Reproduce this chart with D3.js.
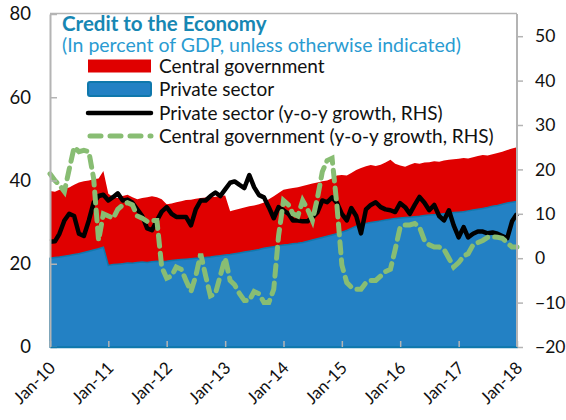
<!DOCTYPE html>
<html><head><meta charset="utf-8">
<script src="https://cdn.jsdelivr.net/npm/d3@7"></script>
<style>
html,body{margin:0;padding:0;background:#fff;}
svg text{font-family:Lato,"Open Sans",sans-serif;}
</style></head>
<body><svg id="c" width="566" height="420"></svg>
<script>
// ---- data (monthly, Jan-2010 .. Jan-2018) ----
const startMonth = new Date(2010, 0, 1);
const endMonth = new Date(2018, 0, 1);
const yearTicks = ["Jan-10","Jan-11","Jan-12","Jan-13","Jan-14","Jan-15","Jan-16","Jan-17","Jan-18"];
const leftTicks = [0, 20, 40, 60, 80];
const rightTicks = [-20, -10, 0, 10, 20, 30, 40, 50];

// Private sector credit, % of GDP (LHS)
const privateSector = [
 21.3,21.5,21.6,21.8,22.0,22.2,22.4,22.7,23.0,23.3,23.6,24.0,
 19.6,19.8,19.9,20.0,20.2,20.1,20.3,20.4,20.3,20.5,20.6,20.5,
 20.6,20.8,20.9,21.0,21.1,21.2,21.3,21.4,21.5,21.6,21.8,21.9,
 22.1,22.2,22.4,22.6,22.8,23.0,23.2,23.4,23.7,23.9,24.1,24.3,
 24.5,24.6,24.8,24.9,25.1,25.4,25.7,26.0,26.3,26.6,26.9,27.2,
 27.6,28.0,28.5,29.0,29.4,29.7,29.9,30.1,30.3,30.5,30.7,30.9,
 31.0,31.1,31.2,31.3,31.4,31.6,31.7,31.8,31.9,32.0,32.1,32.3,
 32.4,32.5,32.7,32.9,33.1,33.3,33.5,33.8,34.0,34.3,34.6,34.8,
 35.0];
// Central government credit, % of GDP (LHS, stacked on private)
const centralGov = [
 16.2,15.8,16.2,16.2,16.3,16.8,17.1,17.1,17.0,17.0,16.9,18.3,
 17.2,16.2,15.9,16.3,16.4,15.9,15.2,15.4,15.7,15.7,15.4,15.0,
 13.7,13.7,13.9,14.0,14.2,14.2,14.3,14.4,14.4,14.4,14.3,14.4,
 14.3,10.4,10.5,10.6,10.7,10.8,10.8,10.9,11.0,11.6,12.1,12.7,
 13.3,13.4,13.4,13.5,13.6,13.6,13.6,13.5,13.5,13.4,13.6,14.0,
 13.7,13.2,13.3,13.5,13.6,13.7,13.8,13.4,13.5,13.8,14.3,13.1,
 12.6,12.2,12.6,12.9,12.6,12.7,12.7,12.8,12.6,12.8,12.9,12.8,
 12.8,12.9,12.6,12.7,12.8,12.8,12.5,12.5,12.6,12.6,12.7,12.9,
 13.0];
// Private sector credit, y-o-y growth % (RHS)
const privateGrowth = [
 3.7,3.8,5.5,8.5,10.0,9.5,5.5,5.0,8.5,12.5,14.0,14.3,
 13.0,13.8,14.6,13.0,13.2,12.5,11.0,9.5,6.7,6.3,8.5,10.5,
 11.5,10.0,9.3,9.3,9.3,7.4,11.0,13.0,13.0,14.0,14.8,14.0,
 15.5,17.0,17.3,16.5,15.8,18.7,16.0,14.2,13.7,11.5,9.0,11.5,
 10.8,10.0,8.5,8.5,8.3,8.3,9.2,10.3,13.0,12.6,13.7,12.5,
 10.0,8.5,11.3,9.5,5.6,11.0,12.0,12.6,11.5,11.0,10.8,10.4,
 12.4,11.5,10.0,12.0,13.8,12.5,10.8,12.0,9.5,8.5,10.8,7.4,
 4.7,7.0,4.7,5.5,6.0,6.0,5.6,5.8,5.5,5.0,4.5,8.3,
 10.0];
// Central government credit, y-o-y growth % (RHS)
const centralGrowth = [
 19.0,17.5,16.5,15.0,20.0,25.0,24.0,24.3,24.0,18.0,4.0,10.0,
 9.5,9.0,11.0,12.0,12.5,12.0,9.5,9.0,8.3,8.5,8.5,-2.0,
 -4.5,-4.0,-2.0,-2.5,-5.0,-7.5,-4.0,1.0,-4.0,-8.5,-8.0,-4.0,
 0.0,-5.0,-6.0,-8.0,-9.5,-9.5,-7.5,-8.0,-10.0,-10.0,-7.0,5.0,
 13.0,12.0,10.0,9.5,13.0,11.0,8.5,13.5,19.5,22.0,22.5,12.0,
 -1.5,-5.5,-6.5,-7.0,-7.0,-5.5,-5.0,-5.0,-4.0,-3.0,-2.5,2.0,
 7.0,7.5,7.5,7.8,7.0,4.0,3.0,2.5,2.5,2.0,0.0,-2.0,
 -1.0,0.5,1.0,3.0,3.5,4.0,4.7,4.8,4.7,4.5,3.5,2.5,
 2.5];

const legendItems = ["Central government","Private sector","Private sector (y-o-y growth, RHS)","Central government (y-o-y growth, RHS)"];
const titleText = "Credit to the Economy";
const subtitleText = "(In percent of GDP, unless otherwise indicated)";

// ---- build ----
const months = d3.timeMonth.range(startMonth, d3.timeMonth.offset(endMonth, 1));
const rows = months.map((d, i) => ({
  date: d, priv: privateSector[i], cent: centralGov[i],
  pg: privateGrowth[i], cg: centralGrowth[i]
}));

const L = 50, R = 517, T = 14, B = 347;
const x = d3.scaleTime().domain([startMonth, endMonth]).range([L, R]);
const yL = d3.scaleLinear().domain([0, 80]).range([B, T]);
const yR = d3.scaleLinear().domain([-20, 55]).range([B, T]);

const svg = d3.select("#c");
const COL = {red:"#E00000", blue:"#2381C4", blueEdge:"#0F78AC", green:"#88BD73", grid:"#B4B4B4"};

// areas
svg.append("path").datum(rows)
  .attr("fill", COL.red)
  .attr("d", d3.area().x(d => x(d.date)).y0(d => yL(d.priv)).y1(d => yL(d.priv + d.cent)));
svg.append("path").datum(rows)
  .attr("fill", COL.blue).attr("stroke", COL.blueEdge).attr("stroke-width", 1.5)
  .attr("d", d3.area().x(d => x(d.date)).y0(yL(0)).y1(d => yL(d.priv)));

// lines
svg.append("path").datum(rows)
  .attr("fill", "none").attr("stroke", "#000").attr("stroke-width", 4.5)
  .attr("stroke-linejoin", "round")
  .attr("d", d3.line().x(d => x(d.date)).y(d => yR(d.pg)));
svg.append("path").datum(rows)
  .attr("fill", "none").attr("stroke", COL.green).attr("stroke-width", 5)
  .attr("stroke-dasharray", "11,7").attr("stroke-linecap", "round")
  .attr("d", d3.line().x(d => x(d.date)).y(d => yR(d.cg)));

// frame
svg.append("line").attr("x1", L).attr("x2", R).attr("y1", T - 0.5).attr("y2", T - 0.5)
  .attr("stroke", COL.grid).attr("stroke-width", 1.5);

// left axis (ticks inward)
const axL = svg.append("g").attr("transform", `translate(${L},0)`)
  .call(d3.axisLeft(yL).tickValues(leftTicks).tickSizeInner(-7).tickSizeOuter(0).tickPadding(19));
axL.select(".domain").attr("stroke", COL.grid).attr("stroke-width", 2);
axL.selectAll(".tick line").attr("stroke", COL.grid).attr("stroke-width", 1.5);
axL.selectAll("text").attr("font-size", 18.5).attr("fill", "#111").attr("font-family", "Lato");

// right axis
const axR = svg.append("g").attr("transform", `translate(${R},0)`)
  .call(d3.axisRight(yR).tickValues(rightTicks).tickSizeInner(6).tickSizeOuter(0).tickPadding(12));
axR.select(".domain").attr("stroke", COL.grid).attr("stroke-width", 2).attr("d", `M0,${T}V${B}`);
axR.selectAll(".tick line").attr("stroke", COL.grid).attr("stroke-width", 1.5);
axR.selectAll("text").attr("font-size", 17.5).attr("fill", "#111").attr("font-family", "Lato");

// x axis
const tickDates = yearTicks.map((s, i) => d3.timeYear.offset(startMonth, i));
const axX = svg.append("g").attr("transform", `translate(0,${B})`)
  .call(d3.axisBottom(x).tickValues(tickDates).tickSizeInner(-6).tickSizeOuter(0).tickFormat((d, i) => yearTicks[i]));
axX.select(".domain").attr("stroke", COL.blueEdge).attr("stroke-width", 1.5);
axX.selectAll(".tick line").attr("stroke", COL.grid).attr("stroke-width", 1.5);
axX.selectAll("text").attr("font-size", 17).attr("fill", "#111").attr("font-family", "Lato")
  .attr("text-anchor", "end").attr("dy", 0).attr("y", 0)
  .attr("transform", "translate(6,22) rotate(-45)");

// title
svg.append("text").attr("x", 62).attr("y", 31).attr("font-size", 20.5).attr("font-weight", "bold")
  .attr("fill", "#1787B3").text(titleText);
svg.append("text").attr("x", 62).attr("y", 52).attr("font-size", 19.5)
  .attr("fill", "#2A9BD1").text(subtitleText);

// legend
const lg = svg.append("g");
const rowY = [66, 89, 113, 136];
lg.append("rect").attr("x", 88).attr("y", rowY[0] - 6.5).attr("width", 63).attr("height", 13).attr("fill", COL.red);
lg.append("rect").attr("x", 88).attr("y", rowY[1] - 7).attr("width", 63).attr("height", 14).attr("rx", 2)
  .attr("fill", COL.blue).attr("stroke", COL.blueEdge).attr("stroke-width", 2);
lg.append("line").attr("x1", 88).attr("x2", 151).attr("y1", rowY[2]).attr("y2", rowY[2])
  .attr("stroke", "#000").attr("stroke-width", 4.5).attr("stroke-linecap", "round");
lg.append("line").attr("x1", 90).attr("x2", 151).attr("y1", rowY[3]).attr("y2", rowY[3])
  .attr("stroke", COL.green).attr("stroke-width", 5).attr("stroke-dasharray", "11,9").attr("stroke-linecap", "round");
legendItems.forEach((t, i) => {
  lg.append("text").attr("x", 159).attr("y", rowY[i] + 7).attr("font-size", 19).attr("fill", "#111").text(t);
});
</script></body></html>
